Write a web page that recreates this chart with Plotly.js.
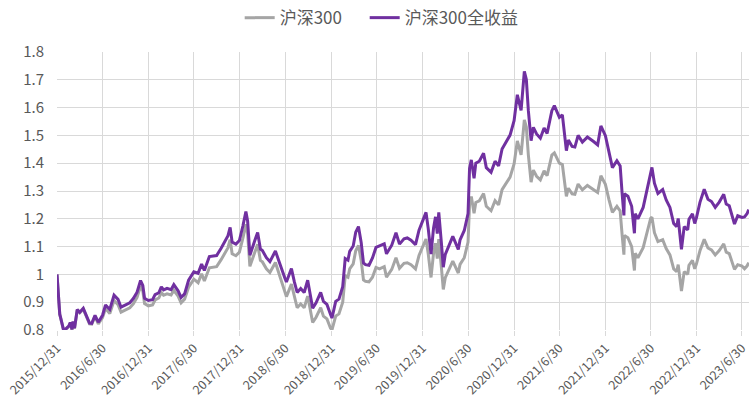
<!DOCTYPE html>
<html>
<head>
<meta charset="utf-8">
<script src="https://cdn.plot.ly/plotly-3.0.1.min.js"></script>
<style>
html,body{margin:0;padding:0;background:#fff;}
#chart{width:756px;height:399px;}
</style>
</head>
<body>
<div id="chart"></div>
<script>
// Dates of observations
const dates = [
"2015-12-31","2016-01-04","2016-01-07","2016-01-11","2016-01-14","2016-01-19","2016-01-26","2016-02-02","2016-02-16","2016-02-22",
"2016-02-29","2016-03-04","2016-03-10","2016-03-21","2016-03-31","2016-04-14","2016-04-22","2016-04-29","2016-05-09","2016-05-18",
"2016-05-31","2016-06-13","2016-06-30","2016-07-12","2016-07-29","2016-08-15","2016-08-31","2016-09-12","2016-09-30","2016-10-17",
"2016-10-31","2016-11-15","2016-11-29","2016-12-08","2016-12-15","2016-12-30",
"2017-01-16","2017-01-26","2017-02-10","2017-02-20","2017-03-01","2017-03-15","2017-03-31","2017-04-11","2017-04-28","2017-05-10",
"2017-05-24","2017-06-09","2017-06-30","2017-07-17","2017-07-31","2017-08-11","2017-08-31","2017-09-15","2017-09-29","2017-10-17",
"2017-10-31","2017-11-13","2017-11-22","2017-11-30","2017-12-15","2017-12-29",
"2018-01-12","2018-01-24","2018-01-31","2018-02-09","2018-02-28","2018-03-12","2018-03-23","2018-03-31","2018-04-16","2018-04-30",
"2018-05-22","2018-05-31","2018-06-19","2018-06-29","2018-07-05","2018-07-25","2018-08-06","2018-08-17","2018-08-31","2018-09-14",
"2018-09-28","2018-10-11","2018-10-18","2018-10-31","2018-11-19","2018-11-30","2018-12-14","2018-12-28",
"2019-01-03","2019-01-18","2019-01-31","2019-02-15","2019-02-25","2019-03-08","2019-03-15","2019-03-29","2019-04-08","2019-04-19",
"2019-04-30","2019-05-09","2019-05-17","2019-05-31","2019-06-14","2019-06-28","2019-07-12","2019-07-31","2019-08-09","2019-08-30",
"2019-09-16","2019-09-30","2019-10-18","2019-10-31","2019-11-15","2019-12-03","2019-12-17","2019-12-31",
"2020-01-14","2020-01-23","2020-02-03","2020-02-13","2020-02-21","2020-02-28","2020-03-05","2020-03-16","2020-03-23","2020-03-31",
"2020-04-15","2020-04-30","2020-05-22","2020-05-29","2020-06-15","2020-06-30","2020-07-06","2020-07-13","2020-07-24","2020-07-31",
"2020-08-14","2020-08-31","2020-09-11","2020-09-30","2020-10-16","2020-10-30","2020-11-13","2020-11-30","2020-12-15","2020-12-31",
"2021-01-13","2021-01-28","2021-02-10","2021-02-18","2021-02-26","2021-03-09","2021-03-18","2021-03-31","2021-04-15","2021-04-30",
"2021-05-12","2021-05-31","2021-06-10","2021-06-30","2021-07-12","2021-07-28","2021-08-05","2021-08-20","2021-08-31","2021-09-13",
"2021-09-30","2021-10-20","2021-10-29","2021-11-15","2021-11-30","2021-12-13","2021-12-31",
"2022-01-14","2022-01-28","2022-02-15","2022-02-28","2022-03-08","2022-03-15","2022-03-17","2022-03-31","2022-04-15","2022-04-26",
"2022-04-29","2022-05-10","2022-05-31","2022-06-15","2022-06-30","2022-07-05","2022-07-15","2022-07-29","2022-08-17","2022-08-31",
"2022-09-15","2022-09-30","2022-10-12","2022-10-18","2022-10-31","2022-11-11","2022-11-25","2022-11-30","2022-12-14","2022-12-23",
"2022-12-30",
"2023-01-13","2023-01-30","2023-02-14","2023-02-28","2023-03-15","2023-03-31","2023-04-18","2023-04-28","2023-05-10","2023-05-31",
"2023-06-13","2023-06-30","2023-07-10","2023-07-20","2023-07-27"
];

// 沪深300 (price index, normalised)
const hs300 = [
1.000,0.930,0.883,0.856,0.845,0.828,0.800,0.800,0.812,0.825,
0.800,0.829,0.805,0.872,0.862,0.875,0.858,0.846,0.822,0.821,
0.849,0.822,0.845,0.877,0.859,0.906,0.891,0.864,0.872,0.880,
0.894,0.917,0.958,0.940,0.895,0.887,
0.890,0.908,0.915,0.935,0.925,0.930,0.926,0.943,0.922,0.898,
0.911,0.954,0.983,0.970,1.002,0.976,1.024,1.027,1.028,1.053,
1.074,1.095,1.125,1.074,1.067,1.080,
1.130,1.180,1.146,1.029,1.078,1.108,1.050,1.045,1.020,1.007,
1.043,1.019,0.960,0.941,0.920,0.965,0.915,0.880,0.894,0.880,
0.922,0.850,0.827,0.845,0.880,0.850,0.840,0.807,
0.800,0.850,0.858,0.900,0.995,0.990,1.020,1.038,1.085,1.104,
1.049,0.980,0.975,0.973,0.990,1.025,1.020,1.028,0.990,1.018,
1.060,1.022,1.040,1.042,1.035,1.020,1.068,1.098,
1.127,1.073,0.989,1.075,1.112,1.057,1.127,1.020,0.946,0.988,
1.020,1.048,1.005,1.036,1.060,1.116,1.252,1.280,1.220,1.259,
1.265,1.291,1.245,1.229,1.265,1.250,1.305,1.329,1.350,1.397,
1.480,1.430,1.556,1.530,1.430,1.332,1.375,1.353,1.340,1.373,
1.355,1.429,1.437,1.400,1.395,1.281,1.310,1.290,1.288,1.325,
1.304,1.320,1.315,1.305,1.295,1.355,1.324,
1.270,1.223,1.245,1.228,1.140,1.071,1.140,1.132,1.100,1.014,
1.076,1.060,1.096,1.145,1.202,1.206,1.150,1.118,1.125,1.093,
1.070,1.020,1.010,1.035,0.940,1.010,1.000,1.033,1.050,1.020,
1.038,
1.085,1.126,1.095,1.088,1.070,1.086,1.110,1.080,1.075,1.018,
1.035,1.030,1.020,1.030,1.042
];

// 沪深300全收益 (total return index, normalised)
const hs300tr = [
1.000,0.930,0.883,0.857,0.846,0.829,0.801,0.802,0.814,0.827,
0.802,0.831,0.807,0.874,0.864,0.878,0.861,0.849,0.825,0.824,
0.853,0.828,0.853,0.890,0.874,0.925,0.910,0.882,0.890,0.898,
0.913,0.936,0.978,0.960,0.914,0.906,
0.909,0.927,0.934,0.955,0.944,0.950,0.945,0.963,0.941,0.917,
0.930,0.979,1.009,1.004,1.037,1.014,1.064,1.067,1.068,1.094,
1.116,1.138,1.169,1.116,1.109,1.122,
1.174,1.226,1.191,1.069,1.120,1.151,1.091,1.086,1.060,1.046,
1.084,1.059,1.006,0.986,0.973,1.021,0.972,0.935,0.949,0.935,
0.979,0.903,0.878,0.897,0.935,0.903,0.892,0.857,
0.843,0.903,0.911,0.956,1.057,1.051,1.083,1.102,1.152,1.172,
1.114,1.041,1.035,1.033,1.059,1.097,1.102,1.110,1.074,1.105,
1.150,1.109,1.128,1.131,1.123,1.107,1.159,1.191,
1.223,1.164,1.073,1.166,1.207,1.147,1.223,1.107,1.026,1.072,
1.107,1.137,1.090,1.124,1.158,1.219,1.381,1.412,1.346,1.400,
1.407,1.436,1.384,1.367,1.407,1.390,1.451,1.478,1.501,1.553,
1.646,1.590,1.730,1.701,1.590,1.481,1.529,1.505,1.490,1.527,
1.507,1.589,1.607,1.565,1.574,1.445,1.483,1.460,1.458,1.500,
1.476,1.494,1.489,1.477,1.466,1.534,1.499,
1.438,1.384,1.409,1.390,1.290,1.212,1.290,1.281,1.245,1.148,
1.218,1.200,1.241,1.308,1.373,1.385,1.328,1.291,1.305,1.268,
1.241,1.183,1.172,1.201,1.090,1.172,1.160,1.198,1.218,1.183,
1.204,
1.259,1.306,1.270,1.262,1.241,1.260,1.288,1.253,1.247,1.181,
1.211,1.205,1.207,1.218,1.233
];

const tickDates = ["2015-12-31","2016-06-30","2016-12-31","2017-06-30","2017-12-31","2018-06-30","2018-12-31",
"2019-06-30","2019-12-31","2020-06-30","2020-12-31","2021-06-30","2021-12-31","2022-06-30","2022-12-31","2023-06-30"];
const tickLabels = ["2015/12/31","2016/6/30","2016/12/31","2017/6/30","2017/12/31","2018/6/30","2018/12/31",
"2019/6/30","2019/12/31","2020/6/30","2020/12/31","2021/6/30","2021/12/31","2022/6/30","2022/12/31","2023/6/30"];

const seriesNames = ["沪深300","沪深300全收益"];
const FONT = "'Noto Sans CJK SC','Noto Sans',sans-serif";

const traces = [
  {x: dates, y: hs300, name: seriesNames[0], type: "scatter", mode: "lines",
   line: {color: "#A5A5A5", width: 3}, legendwidth: 80},
  {x: dates, y: hs300tr, name: seriesNames[1], type: "scatter", mode: "lines",
   line: {color: "#7030A0", width: 3}}
];

const layout = {
  width: 756, height: 399,
  margin: {l: 57, r: 7, t: 52, b: 69, autoexpand: false},
  paper_bgcolor: "#fff", plot_bgcolor: "#fff",
  font: {family: FONT, color: "#595959", size: 13},
  showlegend: true,
  legend: {orientation: "h", x: 0.264, xanchor: "left", y: 1.122, yanchor: "middle",
           font: {size: 17, color: "#595959", family: FONT}, itemwidth: 30, traceorder: "normal"},
  xaxis: {
    type: "date",
    range: ["2015-12-31", "2023-07-28"],
    tickmode: "array", tickvals: tickDates, ticktext: tickLabels,
    tickangle: -45,
    showgrid: true, gridcolor: "#D9D9D9", gridwidth: 1,
    ticks: "outside", ticklen: 5, tickcolor: "#D9D9D9",
    showline: false, zeroline: false,
    tickfont: {size: 12.5, color: "#595959", family: FONT}
  },
  yaxis: {
    range: [0.8, 1.8], dtick: 0.1, tick0: 0.8,
    showgrid: true, gridcolor: "#D9D9D9", gridwidth: 1,
    showline: false, zeroline: false, ticks: "", ticklabelstandoff: 12,
    tickfont: {size: 15, color: "#595959", family: FONT}
  }
};

Plotly.newPlot("chart", traces, layout, {displayModeBar: false, staticPlot: true});
</script>
</body>
</html>
